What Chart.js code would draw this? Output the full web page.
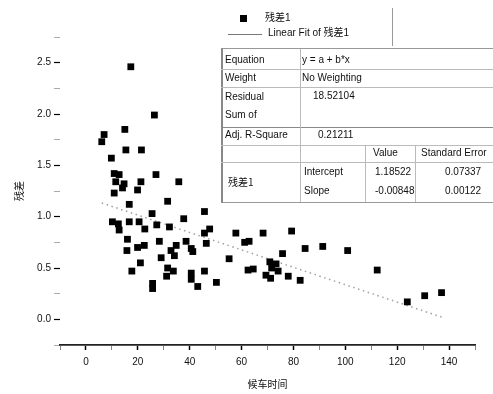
<!DOCTYPE html>
<html><head><meta charset="utf-8">
<script src="https://cdn.jsdelivr.net/npm/chart.js@4/dist/chart.umd.min.js"></script>
<style>
html,body{margin:0;padding:0;background:#fff;}
#wrap{position:relative;width:493px;height:394px;overflow:hidden;font-family:"Liberation Sans","Noto Sans CJK SC",sans-serif;}
canvas{position:absolute;left:0;top:0;}
.t{position:absolute;font-size:10px;color:#111;white-space:nowrap;line-height:12px;}
.h{position:absolute;height:1px;background:#bbb;}
.v{position:absolute;width:1px;background:#bbb;}
</style></head>
<body><div id="wrap"><canvas id="c" width="493" height="394"></canvas><div id="ov"></div></div>
<script>
// ---- data ----
const seriesName = "残差1";
const fitName = "Linear Fit of 残差1";
const xTitle = "候车时间";
const yTitle = "残差";
const xValues = [17.3,26.4,15,7,6.1,15.4,21.4,9.8,10.9,12.8,11.5,14.7,14.1,21.2,19.9,10.9,27,35.8,16.7,31.5,45.7,25.5,10.2,12.5,16.7,20.5,27.3,37.7,32.2,22.7,12.8,47.7,45.7,16,28.3,38.6,46.4,19.9,22.5,34.8,15.8,32.8,40.6,41.2,34.1,29,21,17.7,31.5,33.7,31.1,40.6,45.7,40.6,43.1,25.7,25.7,50.3,57.8,68.3,79.3,61.2,62.9,55.2,75.8,84.5,91.3,100.9,62.5,64.5,70.9,73.3,71.6,74.1,69.4,71.2,78,82.6,112.3,123.9,130.6,137.1];
const yValues = [2.46,1.99,1.85,1.80,1.73,1.65,1.65,1.57,1.42,1.41,1.34,1.32,1.28,1.34,1.26,1.23,1.41,1.34,1.12,1.15,1.05,1.03,0.95,0.93,0.95,0.95,0.92,0.98,0.90,0.88,0.87,0.88,0.84,0.78,0.76,0.76,0.74,0.70,0.72,0.72,0.67,0.67,0.69,0.66,0.62,0.60,0.55,0.47,0.50,0.47,0.42,0.45,0.47,0.39,0.32,0.35,0.30,0.36,0.84,0.84,0.86,0.75,0.76,0.59,0.64,0.69,0.71,0.67,0.48,0.49,0.56,0.54,0.50,0.47,0.43,0.40,0.42,0.38,0.48,0.17,0.23,0.26];
const fitIntercept = 1.18522;
const fitSlope = -0.00848;
const fitXRange = [6.1, 137.1];
const xTickLabels = [0,20,40,60,80,100,120,140];
const yTickLabels = [0.0,0.5,1.0,1.5,2.0,2.5];
const tableRows = [
  ["Equation","y = a + b*x"],
  ["Weight","No Weighting"],
  ["Residual\nSum of\nSquares","18.52104"],
  ["Adj. R-Square","0.21211"]
];
const paramHeader = ["Value","Standard Error"];
const paramRows = [["Intercept","1.18522","0.07337"],["Slope","-0.00848","0.00122"]];

// ---- chart ----
const points = xValues.map((x,i)=>({x:x,y:yValues[i]}));
const fitPoints = fitXRange.map(x=>({x:x,y:fitIntercept+fitSlope*x}));

function isIn(list,v){return list.some(k=>Math.abs(k-v)<1e-6);}
function minorize(scale, step){
  const out=[];
  for(let v=scale.min; v<=scale.max+1e-9; v+=step/2){
    out.push({value:Math.round(v*1000)/1000});
  }
  scale.ticks = out;
}

new Chart(document.getElementById('c'),{
  data:{datasets:[
    {type:'scatter',label:seriesName,data:points,pointStyle:'rect',radius:4.8,backgroundColor:'#000',borderColor:'#000',borderWidth:0},
    {type:'line',label:fitName,data:fitPoints,borderColor:'#a0a0a0',borderWidth:1.5,borderDash:[1.5,3.6],pointRadius:0,fill:false}
  ]},
  options:{
    responsive:false,animation:false,
    layout:{padding:{left:0,top:37,right:18,bottom:0}},
    plugins:{legend:{display:false},tooltip:{enabled:false}},
    scales:{
      x:{type:'linear',min:-10,max:150,
        afterBuildTicks:s=>minorize(s,20),
        afterFit:s=>{s.height=49;},
        ticks:{stepSize:20,includeBounds:false,color:'#111',font:{family:'Liberation Sans',size:10},padding:6,maxRotation:0,autoSkip:false,
          callback:(v)=>isIn(xTickLabels,v)?String(Math.round(v)):''},
        grid:{drawOnChartArea:false,drawTicks:true,tickLength:5,
          tickColor:c=>c.tick&&isIn(xTickLabels,c.tick.value)?'#000':'#888',
          tickWidth:c=>c.tick&&isIn(xTickLabels,c.tick.value)?1.5:1},
        border:{display:true,color:'#222',width:1.8},
        title:{display:true,text:xTitle,color:'#111',font:{family:'Noto Sans CJK SC',size:10},padding:{top:0,bottom:4}}
      },
      y:{type:'linear',min:-0.25,max:2.75,
        afterBuildTicks:s=>minorize(s,0.5),
        afterFit:s=>{s.width=60;},
        ticks:{stepSize:0.5,includeBounds:false,color:'#111',font:{family:'Liberation Sans',size:10},padding:3,autoSkip:false,
          callback:(v)=>isIn(yTickLabels,v)?v.toFixed(1):''},
        grid:{drawOnChartArea:false,drawTicks:true,tickLength:6,
          tickColor:c=>c.tick&&isIn(yTickLabels,c.tick.value)?'#000':'#aaa',
          tickWidth:c=>c.tick&&isIn(yTickLabels,c.tick.value)?1.2:1},
        border:{display:false},
        title:{display:true,text:yTitle,color:'#111',font:{family:'Noto Sans CJK SC',size:10},padding:{top:13,bottom:0}}
      }
    }
  }
});

// ---- legend and stats table (text overlay) ----
const ov=document.getElementById('ov');
function txt(s,x,y,extra){const d=document.createElement('div');d.className='t';d.textContent=s;d.style.left=x+'px';d.style.top=(y-6)+'px';if(extra)Object.assign(d.style,extra);ov.appendChild(d);return d;}
function hl(x,y,w,c){const d=document.createElement('div');d.className='h';d.style.left=x+'px';d.style.top=y+'px';d.style.width=w+'px';if(c)d.style.background=c;ov.appendChild(d);}
function vl(x,y,h,c){const d=document.createElement('div');d.className='v';d.style.left=x+'px';d.style.top=y+'px';d.style.height=h+'px';if(c)d.style.background=c;ov.appendChild(d);}

// legend
const sq=document.createElement('div');Object.assign(sq.style,{position:'absolute',left:'240px',top:'15px',width:'7px',height:'7px',background:'#000'});ov.appendChild(sq);
txt(seriesName,265,18);
hl(228,34,34,'#777');
txt(fitName,268,33);
vl(392,8,38,'#999');

// table
const tb=document.createElement('div');Object.assign(tb.style,{position:'absolute',left:'221px',top:'48px',width:'290px',height:'155px',background:'#fff',border:'1px solid #999',borderRight:'none',boxSizing:'border-box',borderLeft:'2px solid #888'});ov.appendChild(tb);
txt(tableRows[0][0],225,60);txt(tableRows[0][1],302,60);
hl(221,69,272);
txt(tableRows[1][0],225,78);txt(tableRows[1][1],302,78);
hl(221,87,272);
const lines=tableRows[2][0].split('\n');
const clip=document.createElement('div');Object.assign(clip.style,{position:'absolute',left:'225px',top:'88px',width:'70px',height:'39px',overflow:'hidden'});ov.appendChild(clip);
lines.forEach((l,i)=>{const d=document.createElement('div');d.className='t';d.textContent=l;d.style.left='0px';d.style.top=(3+i*18)+'px';clip.appendChild(d);});
txt(tableRows[2][1],313,96);
hl(221,127,272,'#888');
txt(tableRows[3][0],225,135);txt(tableRows[3][1],318,135);
hl(221,145,272);
vl(300,49,96);
txt(paramHeader[0],373,153);txt(paramHeader[1],421,153);
hl(221,162,272);
vl(300,145,57);vl(365,145,57);vl(415,145,57);
txt(seriesName,228,182,{fontFamily:'"Noto Sans CJK SC"'});
paramRows.forEach((r,i)=>{const y=172+i*19;txt(r[0],304,y);txt(r[1],375,y);txt(r[2],445,y);});
</script></body></html>
